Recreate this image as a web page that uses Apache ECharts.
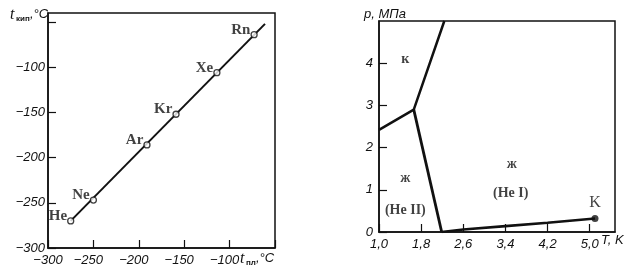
<!DOCTYPE html>
<html>
<head>
<meta charset="utf-8">
<script src="https://cdn.jsdelivr.net/npm/echarts@6/dist/echarts.min.js"></script>
<style>
html,body{margin:0;padding:0;background:#fff;}
#c{width:637px;height:277px;}
</style>
</head>
<body>
<div id="c"></div>
<script>
// ---- Left chart: boiling vs melting temperatures of noble gases ----
var gasNames = ['He', 'Ne', 'Ar', 'Kr', 'Xe', 'Rn'];
var meltT = [-275, -250, -191, -159, -114, -73];
var boilT = [-270, -247, -186, -152, -106, -64];
var fitLineX = [-275, -61];
var fitLineY = [-270, -52];
var leftXTicks = [-300, -250, -200, -150, -100, -50];
var leftXLabels = [-300, -250, -200, -150, -100];
var leftYTicks = [-300, -250, -200, -150, -100, -50];
var leftYLabels = [-300, -250, -200, -150, -100];

// ---- Right chart: helium phase diagram ----
var meltCurveT = [1.0, 1.66, 2.24];
var meltCurveP = [2.42, 2.9, 5.0];
var lambdaT = [1.66, 2.19];
var lambdaP = [2.9, 0.0];
var vaporT = [2.19, 2.6, 3.4, 4.2, 5.1];
var vaporP = [0.0, 0.06, 0.14, 0.22, 0.32];
var critT = [5.1];
var critP = [0.32];
var rightXTicks = [1.0, 1.8, 2.6, 3.4, 4.2, 5.0];
var rightYTicks = [0, 1, 2, 3, 4];

var phaseLabels = [
  {t: 1.5, p: 4.1, text: 'к'},
  {t: 1.5, p: 1.27, text: 'ж'},
  {t: 1.5, p: 0.52, text: '(He II)'},
  {t: 3.52, p: 1.6, text: 'ж'},
  {t: 3.5, p: 0.92, text: '(He I)'}
];

function zip(a, b) { return a.map(function (v, i) { return [v, b[i]]; }); }

var serif = 'Liberation Serif';
var sans = 'Liberation Sans';
var ink = '#111';

var chart = echarts.init(document.getElementById('c'), null, {renderer: 'canvas'});

function txt(x, y, s, size, family, fstyle, fweight) {
  return {type: 'text', left: x, top: y, style: {
    text: s, fontSize: size, fontFamily: family, fontStyle: fstyle || 'normal',
    fontWeight: fweight || 'normal', fill: ink}};
}

var option = {
  animation: false,
  backgroundColor: '#fff',
  grid: [
    {left: 48, right: 362, top: 13, bottom: 29, show: true, borderColor: ink, borderWidth: 1.5, backgroundColor: 'transparent'},
    {left: 379, right: 22, top: 21, bottom: 45, show: true, borderColor: ink, borderWidth: 1.5, backgroundColor: 'transparent'}
  ],
  xAxis: [
    {
      gridIndex: 0, type: 'value', min: -300, max: -50, interval: 50,
      axisLine: {show: true, onZero: false, lineStyle: {color: ink, width: 1.5}},
      axisTick: {show: true, inside: true, length: 8, customValues: leftXTicks, lineStyle: {color: ink, width: 1.2}},
      axisLabel: {show: true, customValues: leftXLabels, margin: 6,
        formatter: function (v) {
          var s = String(v).replace('-', '−');
          return v === -300 ? '{a|' + s + '}' : '{b|' + s + '}';
        },
        rich: {a: {padding: [0, 0, 0, 0]}, b: {padding: [0, 10, 0, 0]}},
        color: ink, fontFamily: sans, fontStyle: 'italic', fontSize: 13},
      splitLine: {show: false}
    },
    {
      gridIndex: 1, type: 'value', min: 1.0, max: 5.48,
      axisLine: {show: true, onZero: false, lineStyle: {color: ink, width: 1.5}},
      axisTick: {show: true, inside: true, length: 8, customValues: rightXTicks, lineStyle: {color: ink, width: 1.2}},
      axisLabel: {show: true, customValues: rightXTicks, margin: 6,
        formatter: function (v) { return v.toFixed(1).replace('.', ','); },
        color: ink, fontFamily: sans, fontStyle: 'italic', fontSize: 13},
      splitLine: {show: false}
    }
  ],
  yAxis: [
    {
      gridIndex: 0, type: 'value', min: -300, max: -40, interval: 50,
      axisLine: {show: true, onZero: false, lineStyle: {color: ink, width: 1.5}},
      axisTick: {show: true, inside: true, length: 8, customValues: leftYTicks, lineStyle: {color: ink, width: 1.2}},
      axisLabel: {show: true, customValues: leftYLabels, margin: 3,
        formatter: function (v) { return String(v).replace('-', '−'); },
        color: ink, fontFamily: sans, fontStyle: 'italic', fontSize: 13},
      splitLine: {show: false}
    },
    {
      gridIndex: 1, type: 'value', min: 0, max: 5,
      axisLine: {show: true, onZero: false, lineStyle: {color: ink, width: 1.5}},
      axisTick: {show: true, inside: true, length: 8, customValues: rightYTicks, lineStyle: {color: ink, width: 1.2}},
      axisLabel: {show: true, customValues: rightYTicks, margin: 6,
        color: ink, fontFamily: sans, fontStyle: 'italic', fontSize: 13},
      splitLine: {show: false}
    }
  ],
  series: [
    {
      type: 'line', xAxisIndex: 0, yAxisIndex: 0, data: zip(fitLineX, fitLineY),
      showSymbol: false, lineStyle: {color: ink, width: 2}, silent: true, z: 2
    },
    {
      type: 'scatter', xAxisIndex: 0, yAxisIndex: 0,
      data: meltT.map(function (v, i) { return {name: gasNames[i], value: [v, boilT[i]]}; }),
      symbol: 'circle', symbolSize: 6,
      itemStyle: {color: '#fff', borderColor: ink, borderWidth: 1.3}, z: 3,
      label: {show: true, position: 'left', distance: 0, formatter: '{b}',
        color: ink, fontFamily: serif, fontSize: 15, fontWeight: 'bold', offset: [0, -5]}
    },
    {
      type: 'line', xAxisIndex: 1, yAxisIndex: 1, data: zip(meltCurveT, meltCurveP),
      showSymbol: false, lineStyle: {color: ink, width: 2.5}, silent: true
    },
    {
      type: 'line', xAxisIndex: 1, yAxisIndex: 1, data: zip(lambdaT, lambdaP),
      showSymbol: false, lineStyle: {color: ink, width: 2.8}, silent: true
    },
    {
      type: 'line', xAxisIndex: 1, yAxisIndex: 1, data: zip(vaporT, vaporP),
      showSymbol: false, lineStyle: {color: ink, width: 2.6}, silent: true
    },
    {
      type: 'scatter', xAxisIndex: 1, yAxisIndex: 1,
      data: critT.map(function (v, i) { return {name: 'K', value: [v, critP[i]]}; }),
      symbol: 'circle', symbolSize: 7, itemStyle: {color: ink},
      label: {show: true, position: 'top', distance: 4, formatter: '{b}',
        color: ink, fontFamily: serif, fontSize: 16}
    },
    {
      type: 'scatter', xAxisIndex: 1, yAxisIndex: 1, symbolSize: 0,
      data: phaseLabels.map(function (d) { return {name: d.text, value: [d.t, d.p]}; }),
      label: {show: true, position: 'inside', formatter: '{b}',
        color: ink, fontFamily: serif, fontSize: 14, fontWeight: 'bold'}
    }
  ],
  graphic: [
    txt(10, 7, 't', 16, serif, 'italic'),
    txt(16, 15, 'кип', 8, sans, 'normal', 'bold'),
    txt(30, 8, ',°C', 13, sans, 'italic'),
    txt(240, 251, 't', 16, serif, 'italic'),
    txt(246, 259, 'пл', 8, sans, 'normal', 'bold'),
    txt(256, 252, ',°C', 13, sans, 'italic'),
    txt(364, 8, 'p, МПа', 13, sans, 'italic'),
    txt(601, 234, 'T, K', 13, sans, 'italic')
  ]
};
chart.setOption(option);
</script>
</body>
</html>
